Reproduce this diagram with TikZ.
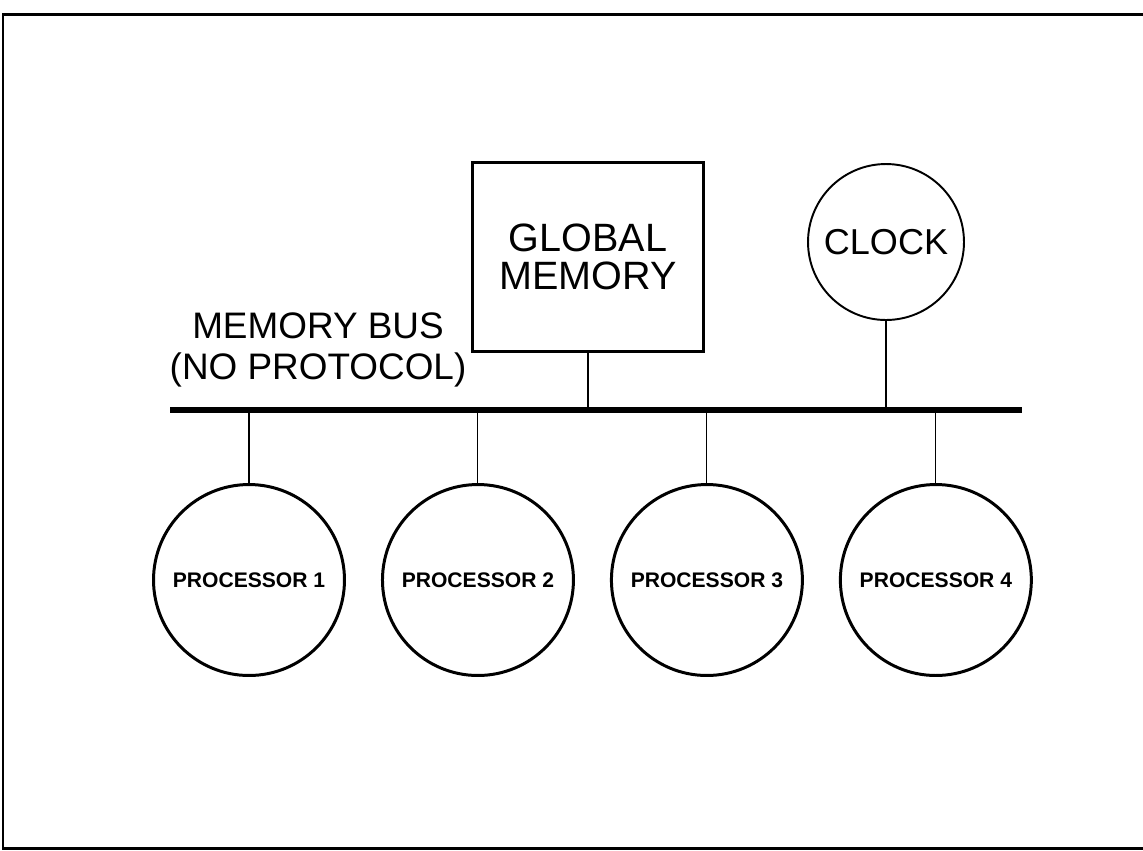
\documentclass[tikz,border=0pt]{standalone}
\usepackage{fontspec}
\setmainfont{Liberation Sans}
\begin{document}
\begin{tikzpicture}[x=0.02cm, y=-0.02cm, node distance=4.58cm,
                    proc node/.style={circle,draw,line width=1.7pt,minimum size=3.82cm,inner sep=0pt,font=\bfseries\fontsize{12}{14}\selectfont},
                    mem node/.style={rectangle,draw,line width=1.4pt,minimum width=4.62cm,minimum height=3.78cm,align=center,font=\fontsize{22.5}{21.5}\selectfont},
                    clock node/.style={circle,draw,line width=1.1pt,minimum size=3.12cm,inner sep=0pt,font=\fontsize{20.5}{24}\selectfont}]

  \useasboundingbox (0,0) rectangle (1143,850);
  \draw[line width=1.7pt] (3,14) rectangle (1170,848);

  \node[proc node] (p1) at (249,580) {PROCESSOR 1};
  \node[proc node] (p2) [right of=p1] {PROCESSOR 2};
    \node[proc node] (p3) [right of=p2] {PROCESSOR 3};
      \node[proc node] (p4) [right of=p3] {PROCESSOR 4};

  \node[mem node] (mem) at (588,257) {GLOBAL\\MEMORY};
  \node[clock node] (clk) at (886,242) {CLOCK};
  \node[align=center,font=\fontsize{21}{23}\selectfont] (lbl) at (318,350) {MEMORY BUS\\(NO PROTOCOL)};

  \coordinate (bl) at (170,410);
  \coordinate (br) at (1022,410);
  \draw[line width=3.4pt] (bl) -- (br);

\path[line width=0.6pt]
    (p1) edge (p1 |- bl)
    (p2) edge (p2 |- bl)
    (p3) edge (p3 |- bl)
    (p4) edge (p4 |- bl)

    (mem) edge (mem |- bl)
    (clk) edge (clk |- bl);

\end{tikzpicture}
\end{document}
